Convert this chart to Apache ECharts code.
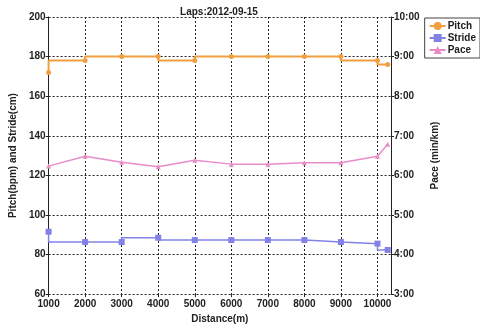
<!DOCTYPE html>
<html>
<head>
<meta charset="utf-8">
<script src="https://cdn.jsdelivr.net/npm/echarts@6/dist/echarts.min.js"></script>
<style>
  html, body { margin: 0; padding: 0; background: #fff; }
  #root { width: 480px; height: 329px; }
</style>
</head>
<body>
<div id="root"></div>
<script>
// 距离(m)
var distance = [1000, 2000, 3000, 4000, 5000, 6000, 7000, 8000, 9000, 10000, 10280];
// 步频 bpm
var pitch = [172, 178, 180, 180, 178, 180, 180, 180, 180, 178, 176];
// 步幅 cm
var stride = [91.5, 86.3, 86.3, 88.5, 87.3, 87.3, 87.3, 87.3, 86.3, 85.5, 82.3];
// 配速 秒/km
var pace = [374, 389, 380, 373, 383, 377, 377, 379, 379, 389, 407];

var FONT = '"Liberation Sans", Arial, sans-serif';

function pairs(ys) {
    var out = [];
    for (var i = 0; i < distance.length; i++) out.push([distance[i], ys[i]]);
    return out;
}

// 秒 -> m:ss
function fmtPace(v) {
    var m = Math.floor(v / 60), s = Math.round(v % 60);
    return m + ':' + (s < 10 ? '0' + s : s);
}

var labelStyle = { color: '#222', fontFamily: FONT, fontWeight: 'bold', fontSize: 10 };
var nameStyle = { color: '#222', fontFamily: FONT, fontWeight: 'bold', fontSize: 10 };
var dashed = { show: true, lineStyle: { color: '#222', type: [2, 2], width: 1 } };

var myChart = echarts.init(document.getElementById('root'), null, { renderer: 'canvas' });

var option = {
    animation: false,
    title: {
        text: 'Laps:2012-09-15',
        left: 214, top: 2, textAlign: 'center',
        textStyle: { fontFamily: FONT, fontWeight: 'bold', fontSize: 10, color: '#222' }
    },
    legend: {
        orient: 'vertical',
        right: 0, top: 18,
        width: 50,
        padding: [3, 4, 3, 4],
        itemGap: 2,
        itemWidth: 16, itemHeight: 10,
        borderColor: '#444', borderWidth: 1,
        textStyle: { fontFamily: FONT, fontWeight: 'bold', fontSize: 10, color: '#222', padding: [0, 0, 0, -3] },
        data: ['Pitch', 'Stride', 'Pace']
    },
    grid: { left: 39, right: 89, top: 17, bottom: 32, containLabel: false },
    xAxis: {
        type: 'value',
        min: 1000, max: 10370, interval: 1000,
        name: 'Distance(m)', nameLocation: 'middle', nameGap: 19,
        nameTextStyle: nameStyle,
        axisLine: { show: false },
        axisTick: { show: true, length: 3, lineStyle: { color: '#222' } },
        axisLabel: Object.assign({ showMaxLabel: false, margin: 5,
            formatter: function (v) { return v % 1000 === 0 ? String(v) : ''; } }, labelStyle),
        splitLine: dashed
    },
    yAxis: [{
        type: 'value',
        min: 60, max: 200, interval: 20,
        name: 'Pitch(bpm) and Stride(cm)', nameLocation: 'middle', nameGap: 27,
        nameTextStyle: nameStyle,
        axisLine: { show: true, lineStyle: { color: '#222', width: 1 } },
        axisTick: { show: true, length: 3, lineStyle: { color: '#222' } },
        axisLabel: Object.assign({ margin: 3 }, labelStyle),
        splitLine: dashed
    }, {
        type: 'value',
        position: 'right',
        min: 180, max: 600, interval: 60,
        name: 'Pace (min/km)', nameLocation: 'middle', nameGap: 33, nameRotate: 90,
        nameTextStyle: nameStyle,
        axisLine: { show: true, lineStyle: { color: '#222', width: 1 } },
        axisTick: { show: true, length: 3, lineStyle: { color: '#222' } },
        axisLabel: Object.assign({ margin: 3, formatter: fmtPace }, labelStyle),
        splitLine: { show: false }
    }],
    series: [{
        name: 'Pitch', type: 'line', step: 'start',
        data: pairs(pitch),
        symbol: 'circle', symbolSize: 5,
        itemStyle: { color: '#f0a040' },
        lineStyle: { color: '#f0a040', width: 2 }
    }, {
        name: 'Stride', type: 'line', step: 'start',
        data: pairs(stride),
        symbol: 'rect', symbolSize: 6,
        itemStyle: { color: '#8282e6' },
        lineStyle: { color: '#8282e6', width: 1.5 }
    }, {
        name: 'Pace', type: 'line', yAxisIndex: 1,
        data: pairs(pace),
        symbol: 'triangle', symbolSize: 5,
        itemStyle: { color: '#e88cc8' },
        lineStyle: { color: '#e88cc8', width: 1.5 }
    }]
};

myChart.setOption(option);
</script>
</body>
</html>
